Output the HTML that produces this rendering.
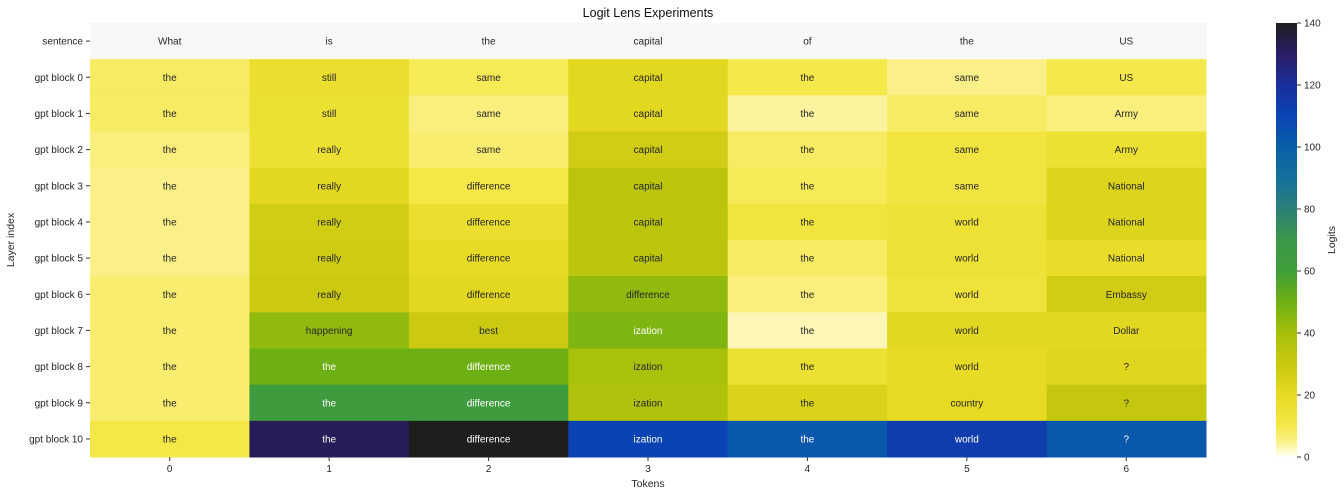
<!DOCTYPE html>
<html><head><meta charset="utf-8"><style>
body{margin:0;background:#fff;font-family:"Liberation Sans","DejaVu Sans",sans-serif}
svg text{font-family:"Liberation Sans","DejaVu Sans",sans-serif}
</style></head><body>
<svg id="c" width="1344" height="496"></svg>
<script>
const rowLabels=["sentence","gpt block 0","gpt block 1","gpt block 2","gpt block 3","gpt block 4","gpt block 5","gpt block 6","gpt block 7","gpt block 8","gpt block 9","gpt block 10"];
const colLabels=["0","1","2","3","4","5","6"];
const sentence=["What","is","the","capital","of","the","US"];
const words=[
["the","still","same","capital","the","same","US"],
["the","still","same","capital","the","same","Army"],
["the","really","same","capital","the","same","Army"],
["the","really","difference","capital","the","same","National"],
["the","really","difference","capital","the","world","National"],
["the","really","difference","capital","the","world","National"],
["the","really","difference","difference","the","world","Embassy"],
["the","happening","best","ization","the","world","Dollar"],
["the","the","difference","ization","the","world","?"],
["the","the","difference","ization","the","country","?"],
["the","the","difference","ization","the","world","?"]];
const values=[
[8,17,9,21,10,5,10],
[8,16,6,21,4,8,6],
[6,16,7,27,8,13,16],
[5,21,11,34,9,12,23],
[5,27,17,34,13,15,23],
[5,28,19,34,8,15,18],
[7,29,21,44,6,14,27],
[7,44,29,47,3,21,21],
[7,50,50,39,16,19,22],
[7,63,63,37,24,20,31],
[11,132,140,110,103,113,103]];
const cbTicks=[0,20,40,60,80,100,120,140];
const stops=[[0,"#fffff8"],[5,"#fbf088"],[10,"#f5e84a"],[20,"#e6da22"],[30,"#c8c80e"],[40,"#a6c00a"],[50,"#6eb014"],[60,"#3f9e3a"],[70,"#3c9848"],[80,"#2a8078"],[90,"#14709c"],[100,"#0860a8"],[110,"#0a44b4"],[120,"#1a2e9c"],[130,"#2a1c66"],[140,"#1e1e1e"]];
const NS="http://www.w3.org/2000/svg",svg=document.getElementById('c');
function el(t,a,p){const e=document.createElementNS(NS,t);for(const k in a)e.setAttribute(k,a[k]);(p||svg).appendChild(e);return e;}
function hex(h){return [1,3,5].map(i=>parseInt(h.substr(i,2),16));}
function cmap(v){v=Math.max(0,Math.min(140,v));for(let i=0;i<stops.length-1;i++){const[a,ca]=stops[i],[b,cb]=stops[i+1];if(v<=b){const t=(v-a)/(b-a),x=hex(ca),y=hex(cb);return `rgb(${x.map((q,j)=>Math.round(q+(y[j]-q)*t)).join(',')})`;}}return stops[stops.length-1][1];}
const X0=90,X1=1206,Y0=23,Y1=457,cw=(X1-X0)/colLabels.length,rh=(Y1-Y0)/rowLabels.length;
const xs=i=>X0+i*cw, ys=r=>Y0+r*rh;
let t=el('text',{x:648,y:17,'text-anchor':'middle','font-size':12.5,fill:'#111'});t.textContent="Logit Lens Experiments";


sentence.forEach((w,i)=>{
 const r=el('rect',{x:xs(i),y:ys(0),width:cw+0.5,height:rh+0.5,fill:'#f7f7f7'});
 
 
 const tx=el('text',{x:xs(i)+cw/2,y:ys(0)+rh/2+3.5,'text-anchor':'middle','font-size':10,fill:'#262626'});tx.textContent=w;
 
 
});
values.forEach((row,r)=>row.forEach((v,i)=>{
 const rc=el('rect',{x:xs(i),y:ys(r+1),width:cw+0.5,height:rh+0.5,fill:cmap(v)});
 
 
 const tx=el('text',{x:xs(i)+cw/2,y:ys(r+1)+rh/2+3.5,'text-anchor':'middle','font-size':10,fill:v>=46?'#fff':'#262626'});tx.textContent=words[r][i];
 
 
}));
rowLabels.forEach((l,r)=>{
 el('line',{x1:X0-4,x2:X0,y1:ys(r)+rh/2,y2:ys(r)+rh/2,stroke:'#333'});
 const tx=el('text',{x:X0-7,y:ys(r)+rh/2+3.5,'text-anchor':'end','font-size':10,fill:'#262626'});tx.textContent=l;
 
 
});
colLabels.forEach((l,i)=>{
 el('line',{x1:xs(i)+cw/2,x2:xs(i)+cw/2,y1:Y1,y2:Y1+4,stroke:'#333'});
 const tx=el('text',{x:xs(i)+cw/2,y:Y1+15,'text-anchor':'middle','font-size':10,fill:'#262626'});tx.textContent=l;
 
 
});
t=el('text',{x:648,y:487,'text-anchor':'middle','font-size':10.5,fill:'#262626'});t.textContent="Tokens";


t=el('text',{x:14,y:240,'text-anchor':'middle','font-size':10.5,fill:'#262626',transform:'rotate(-90 14 240)'});t.textContent="Layer index";


const CX=1276,CW=21,CY0=23,CY1=457;
const defs=el('defs',{});const g=el('linearGradient',{id:'gr',x1:0,y1:1,x2:0,y2:0},defs);
stops.forEach(([v,c])=>el('stop',{offset:v/140,'stop-color':c},g));
const cb=el('rect',{x:CX,y:CY0,width:CW,height:CY1-CY0,fill:'url(#gr)'});


const cy=v=>CY1-(v/140)*(CY1-CY0);
cbTicks.forEach(v=>{
 el('line',{x1:CX+CW,x2:CX+CW+4,y1:cy(v),y2:cy(v),stroke:'#333'});
 const tx=el('text',{x:CX+CW+7,y:cy(v)+3.5,'font-size':10,fill:'#262626'});tx.textContent=v;
 
 
});
t=el('text',{x:1335,y:240,'text-anchor':'middle','font-size':10.5,fill:'#262626',transform:'rotate(-90 1335 240)'});t.textContent="Logits";


</script>
</body></html>
